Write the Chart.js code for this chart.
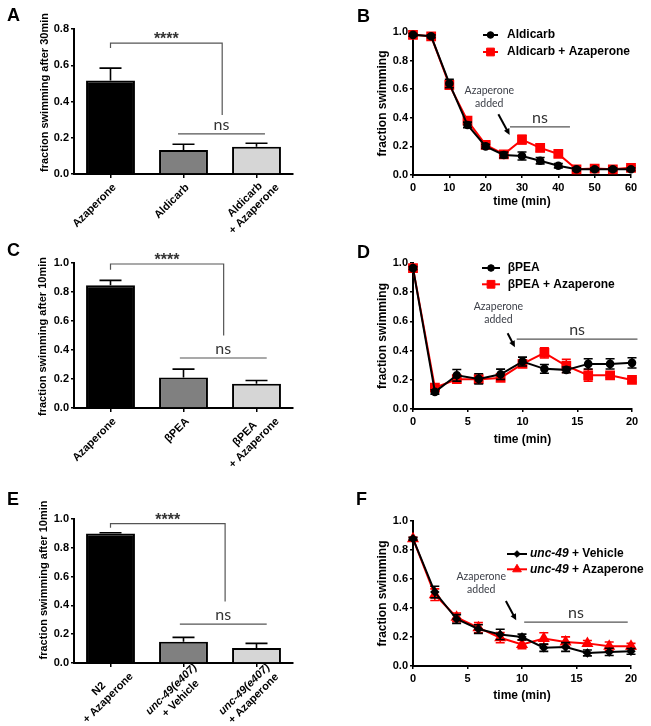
<!DOCTYPE html>
<html>
<head>
<meta charset="utf-8">
<script src="https://cdn.jsdelivr.net/npm/chart.js@4.4.0/dist/chart.umd.min.js"></script>
<style>
  html, body { margin: 0; padding: 0; background: #fff; }
  #fig { position: relative; width: 651px; height: 726px; overflow: hidden; }
  .panel { position: absolute; }
  .letter { position: absolute; font: bold 18px "Liberation Sans", Arial, sans-serif; line-height: 18px; color: #000; }
</style>
</head>
<body>
<div id="fig">
  <div class="panel" style="left:0;top:0;width:325px;height:240px"><canvas id="chartA"></canvas></div>
  <div class="panel" style="left:330px;top:0;width:321px;height:240px"><canvas id="chartB"></canvas></div>
  <div class="panel" style="left:0;top:240px;width:325px;height:240px"><canvas id="chartC"></canvas></div>
  <div class="panel" style="left:330px;top:240px;width:321px;height:240px"><canvas id="chartD"></canvas></div>
  <div class="panel" style="left:0;top:480px;width:325px;height:246px"><canvas id="chartE"></canvas></div>
  <div class="panel" style="left:330px;top:480px;width:321px;height:246px"><canvas id="chartF"></canvas></div>
  <div class="letter" style="left:7px;top:6px">A</div>
  <div class="letter" style="left:357px;top:7px">B</div>
  <div class="letter" style="left:7px;top:241px">C</div>
  <div class="letter" style="left:357px;top:243px">D</div>
  <div class="letter" style="left:7px;top:490px">E</div>
  <div class="letter" style="left:356px;top:490px">F</div>
</div>
<script>
// ---- data ----
// A: fraction swimming after 30 min
const labelsA = [['Azaperone'], ['Aldicarb'], ['Aldicarb', '+ Azaperone']];
const valuesA = [0.516, 0.133, 0.151];
const errorsA = [0.068, 0.031, 0.019];

// B: aldicarb time course
const timesB = [0, 5, 10, 15, 20, 25, 30, 35, 40, 45, 50, 55, 60];
const aldicarbB = [0.98, 0.97, 0.64, 0.35, 0.20, 0.14, 0.133, 0.10, 0.065, 0.04, 0.04, 0.04, 0.04];
const aldicarbErrB = [0.01, 0.01, 0.03, 0.02, 0.015, 0.02, 0.028, 0.022, 0.015, 0.01, 0.01, 0.01, 0.01];
const aldicarbAzaB = [0.98, 0.97, 0.63, 0.38, 0.21, 0.145, 0.247, 0.19, 0.147, 0.04, 0.045, 0.04, 0.05];
const aldicarbAzaErrB = [0.01, 0.01, 0.03, 0.025, 0.02, 0.02, 0.03, 0.025, 0.02, 0.01, 0.012, 0.01, 0.015];

// C: fraction swimming after 10 min (bPEA)
const labelsC = [['Azaperone'], ['βPEA'], ['βPEA', '+ Azaperone']];
const valuesC = [0.846, 0.211, 0.168];
const errorsC = [0.034, 0.057, 0.022];

// D: bPEA time course
const timesD = [0, 2, 4, 6, 8, 10, 12, 14, 16, 18, 20];
const peaD = [0.965, 0.117, 0.231, 0.206, 0.238, 0.325, 0.275, 0.268, 0.309, 0.309, 0.316];
const peaErrD = [0.01, 0.015, 0.04, 0.035, 0.035, 0.03, 0.03, 0.02, 0.035, 0.035, 0.035];
const peaAzaD = [0.965, 0.146, 0.204, 0.204, 0.213, 0.309, 0.384, 0.295, 0.231, 0.231, 0.199];
const peaAzaErrD = [0.01, 0.015, 0.015, 0.015, 0.015, 0.02, 0.035, 0.045, 0.04, 0.015, 0.015];

// E: unc-49 after 10 min
const labelsE = [['N2', '+ Azaperone'], ['unc-49(e407)', '+ Vehicle'], ['unc-49(e407)', '+ Azaperone']];
const valuesE = [0.90, 0.148, 0.104];
const errorsE = [0.005, 0.03, 0.032];

// F: unc-49 time course
const timesF = [0, 2, 4, 6, 8, 10, 12, 14, 16, 18, 20];
const vehicleF = [0.878, 0.51, 0.324, 0.255, 0.218, 0.20, 0.126, 0.131, 0.09, 0.097, 0.101];
const vehicleErrF = [0.01, 0.04, 0.03, 0.03, 0.035, 0.02, 0.025, 0.03, 0.02, 0.025, 0.02];
const azaF = [0.878, 0.492, 0.336, 0.264, 0.195, 0.149, 0.189, 0.166, 0.156, 0.136, 0.136];
const azaErrF = [0.01, 0.04, 0.03, 0.035, 0.035, 0.03, 0.04, 0.035, 0.02, 0.03, 0.02];

const FONT = '"Liberation Sans", Arial, sans-serif';
const NOTE_FONT = 'Lato, "Open Sans", sans-serif';
const RED = '#ff0000';

Chart.defaults.font.family = FONT;
Chart.defaults.color = '#000';

function drawMarker(ctx, style, r, x, y) {
  ctx.beginPath();
  if (style === 'rect') {
    const s = Math.SQRT1_2 * r;
    ctx.rect(x - s, y - s, 2 * s, 2 * s);
  } else if (style === 'rectRot') {
    ctx.moveTo(x - r, y); ctx.lineTo(x, y - r); ctx.lineTo(x + r, y); ctx.lineTo(x, y + r); ctx.closePath();
  } else if (style === 'triangle') {
    ctx.moveTo(x, y - r); ctx.lineTo(x + r * 0.866, y + r / 2); ctx.lineTo(x - r * 0.866, y + r / 2); ctx.closePath();
  } else {
    ctx.arc(x, y, r, 0, Math.PI * 2);
  }
  ctx.fill();
  ctx.stroke();
}

// error bars (up only for bars, both ways for lines)
const errorBarPlugin = {
  id: 'errorBars',
  beforeDatasetDraw(chart, args) {
    const ds = chart.data.datasets[args.index];
    if (!ds.errors) return;
    const ctx = chart.ctx, ys = chart.scales.y;
    const isBar = args.meta.type === 'bar';
    const cap = isBar ? 11 : 4.5;
    ctx.save();
    ctx.strokeStyle = isBar ? '#000' : ds.borderColor;
    ctx.lineWidth = 1.6;
    args.meta.data.forEach((el, i) => {
      const raw = ds.data[i];
      const v = typeof raw === 'number' ? raw : raw.y;
      const e = ds.errors[i];
      const top = ys.getPixelForValue(v + e);
      const bot = isBar ? el.y : ys.getPixelForValue(v - e);
      ctx.beginPath();
      ctx.moveTo(el.x, bot); ctx.lineTo(el.x, top);
      ctx.moveTo(el.x - cap, top); ctx.lineTo(el.x + cap, top);
      if (!isBar) { ctx.moveTo(el.x - cap, bot); ctx.lineTo(el.x + cap, bot); }
      ctx.stroke();
    });
    ctx.restore();
  }
};

// rotated category labels, lines centred on each other, plus the y title
const barLabelPlugin = {
  id: 'barLabels',
  afterDraw(chart, args, o) {
    if (!o.on) return;
    const ctx = chart.ctx, xs = chart.scales.x;
    const area = chart.chartArea;
    const y0 = area.bottom;
    chart.data.labels.forEach((lab, i) => {
      const lines = Array.isArray(lab) ? lab : [lab];
      const n = lines.length;
      const fonts = lines.map((t, j) => (o.italic && o.italic[i] && j === 0 ? 'italic ' : '') + 'bold 11px ' + FONT);
      let w = 0;
      lines.forEach((t, j) => { ctx.font = fonts[j]; w = Math.max(w, ctx.measureText(t).width); });
      const px = xs.getPixelForValue(i);
      ctx.save();
      ctx.translate(px + (n === 1 ? o.dx1 : o.dx2), y0 + (n === 1 ? o.dy1 : o.dy2));
      ctx.rotate(-Math.PI / 4);
      ctx.fillStyle = '#000';
      ctx.textAlign = 'center';
      ctx.textBaseline = 'alphabetic';
      lines.forEach((t, j) => {
        ctx.font = fonts[j];
        ctx.fillText(t, -w / 2, (j - (n - 1)) * o.lh);
      });
      ctx.restore();
    });
    if (o.yTitle) {
      ctx.save();
      ctx.translate(o.yTitleX, (area.top + area.bottom) / 2 + o.yTitleShift);
      ctx.rotate(-Math.PI / 2);
      ctx.fillStyle = '#000';
      ctx.font = 'bold 11px ' + FONT;
      ctx.textAlign = 'center';
      ctx.textBaseline = 'middle';
      ctx.fillText(o.yTitle, 0, 0);
      ctx.restore();
    }
  }
};

// legend drawn inside the plot
const insetLegendPlugin = {
  id: 'insetLegend',
  afterDraw(chart, args, o) {
    if (!o.on) return;
    const ctx = chart.ctx;
    chart.data.datasets.forEach((ds, i) => {
      const y = o.y + i * o.rowH;
      ctx.save();
      ctx.strokeStyle = ds.borderColor;
      ctx.fillStyle = ds.borderColor;
      ctx.lineWidth = 2;
      ctx.beginPath(); ctx.moveTo(o.x, y); ctx.lineTo(o.x + o.lineW, y); ctx.stroke();
      ctx.lineWidth = 1;
      drawMarker(ctx, ds.pointStyle, ds.pointRadius, o.x + o.lineW / 2, y);
      ctx.fillStyle = '#000';
      ctx.textAlign = 'left';
      ctx.textBaseline = 'middle';
      let tx = o.textX;
      let text = ds.label;
      if (o.italic && text.startsWith(o.italic)) {
        ctx.font = 'italic bold 12px ' + FONT;
        ctx.fillText(o.italic, tx, y);
        tx += ctx.measureText(o.italic).width;
        text = text.slice(o.italic.length);
      }
      ctx.font = 'bold 12px ' + FONT;
      ctx.fillText(text, tx, y);
      ctx.restore();
    });
  }
};

// significance brackets, ns lines, "Azaperone added" arrows
const notesPlugin = {
  id: 'notes',
  afterDraw(chart, args, o) {
    const ctx = chart.ctx, xs = chart.scales.x, ys = chart.scales.y;
    const X = v => xs.getPixelForValue(v), Y = v => ys.getPixelForValue(v);
    ctx.save();
    ctx.textAlign = 'center';
    if (o.stars) {
      const s = o.stars;
      ctx.strokeStyle = '#555'; ctx.lineWidth = 1.2;
      ctx.beginPath();
      ctx.moveTo(X(s.x1), Y(s.y1)); ctx.lineTo(X(s.x1), Y(s.y));
      ctx.lineTo(X(s.x2), Y(s.y)); ctx.lineTo(X(s.x2), Y(s.y2));
      ctx.stroke();
      ctx.fillStyle = '#333'; ctx.font = 'bold 16px ' + FONT; ctx.textBaseline = 'alphabetic';
      ctx.fillText('****', (X(s.x1) + X(s.x2)) / 2, Y(s.y) + 1);
    }
    if (o.ns) {
      const s = o.ns;
      ctx.strokeStyle = '#555'; ctx.lineWidth = 1.2;
      ctx.beginPath(); ctx.moveTo(X(s.x1), Y(s.y)); ctx.lineTo(X(s.x2), Y(s.y)); ctx.stroke();
      ctx.fillStyle = '#333'; ctx.font = '16px ' + NOTE_FONT; ctx.textBaseline = 'alphabetic';
      ctx.fillText('ns', (X(s.x1) + X(s.x2)) / 2, Y(s.y) - 4);
    }
    if (o.added) {
      const a = o.added;
      ctx.fillStyle = '#3d4049'; ctx.font = '10.5px ' + NOTE_FONT; ctx.textBaseline = 'middle';
      ctx.fillText('Azaperone', X(a.x), Y(a.y1));
      ctx.fillText('added', X(a.x), Y(a.y2));
      const x1 = X(a.ax1), y1 = Y(a.ay1), x2 = X(a.ax2), y2 = Y(a.ay2);
      const ang = Math.atan2(y2 - y1, x2 - x1);
      ctx.strokeStyle = '#000'; ctx.fillStyle = '#000'; ctx.lineWidth = 2;
      ctx.beginPath(); ctx.moveTo(x1, y1);
      ctx.lineTo(x2 - 4 * Math.cos(ang), y2 - 4 * Math.sin(ang)); ctx.stroke();
      ctx.beginPath();
      ctx.moveTo(x2, y2);
      ctx.lineTo(x2 - 7 * Math.cos(ang - 0.45), y2 - 7 * Math.sin(ang - 0.45));
      ctx.lineTo(x2 - 7 * Math.cos(ang + 0.45), y2 - 7 * Math.sin(ang + 0.45));
      ctx.closePath(); ctx.fill();
    }
    ctx.restore();
  }
};

Chart.register(errorBarPlugin, barLabelPlugin, insetLegendPlugin, notesPlugin);

function yAxis(max, title, width, titleSize, titlePad) {
  return {
    min: 0, max: max,
    ticks: { stepSize: 0.2, padding: 2, color: '#000', font: { size: 11, weight: 'bold' }, callback: v => v.toFixed(1) },
    grid: { drawOnChartArea: false, drawTicks: true, tickLength: 3, color: '#000', lineWidth: 1.5 },
    border: { color: '#000', width: 2 },
    title: { display: !!title, text: title, color: '#000', font: { size: titleSize, weight: 'bold' }, padding: { top: titlePad, bottom: 0 } },
    afterFit: s => { s.width = width; }
  };
}

function xTime(max, step, height, titlePad) {
  return {
    type: 'linear', min: 0, max: max,
    ticks: { stepSize: step, padding: 3, maxRotation: 0, color: '#000', font: { size: 11, weight: 'bold' } },
    grid: { drawOnChartArea: false, drawTicks: true, tickLength: 3, color: '#000', lineWidth: 1.5 },
    border: { color: '#000', width: 2 },
    title: { display: true, text: 'time (min)', color: '#000', font: { size: 12, weight: 'bold' }, padding: { top: 0, bottom: titlePad } },
    afterFit: s => { s.height = height; }
  };
}

function xCategory(height) {
  return {
    type: 'category', offset: true,
    ticks: { color: 'rgba(0,0,0,0)', maxRotation: 0, autoSkip: false },
    grid: { offset: false, drawOnChartArea: false, drawTicks: true, tickLength: 4, color: '#000', lineWidth: 1.5 },
    border: { color: '#000', width: 2 },
    afterFit: s => { s.height = height; }
  };
}

function barChart(id, labels, values, errors, opts) {
  return new Chart(document.getElementById(id), {
    type: 'bar',
    data: {
      labels: labels,
      datasets: [{
        data: values,
        errors: errors,
        backgroundColor: ['#000000', '#808080', '#d6d6d6'],
        borderColor: '#000',
        borderWidth: 2,
        categoryPercentage: 1,
        barPercentage: 0.67
      }]
    },
    options: {
      responsive: true,
      maintainAspectRatio: false,
      animation: false,
      events: [],
      layout: { padding: { top: opts.top, right: opts.right, left: 0, bottom: 0 } },
      scales: {
        x: xCategory(opts.xHeight),
        y: yAxis(opts.max, '', 74, 11, 0)
      },
      plugins: {
        legend: { display: false },
        tooltip: { enabled: false },
        barLabels: {
          on: true, dx1: 6, dy1: 14, dx2: 23, dy2: 14, lh: 13, italic: opts.italic,
          yTitle: opts.title, yTitleX: opts.titleX, yTitleShift: opts.titleShift
        },
        notes: { stars: opts.stars, ns: opts.ns }
      }
    }
  });
}

function series(times, vals) {
  return times.map((t, i) => ({ x: t, y: vals[i] }));
}

function lineDataset(label, times, vals, errs, color, style, radius) {
  return {
    label: label,
    data: series(times, vals),
    errors: errs,
    borderColor: color,
    backgroundColor: color,
    pointBackgroundColor: color,
    pointBorderColor: color,
    pointStyle: style,
    pointRadius: radius,
    borderWidth: 2,
    tension: 0,
    clip: false
  };
}

function lineChart(id, datasets, opts) {
  return new Chart(document.getElementById(id), {
    type: 'line',
    data: { datasets: datasets },
    options: {
      responsive: true,
      maintainAspectRatio: false,
      animation: false,
      events: [],
      layout: { padding: { top: opts.top, right: opts.right, left: 0, bottom: 0 } },
      scales: {
        x: xTime(opts.xMax, opts.step, opts.xHeight, opts.xTitlePad),
        y: yAxis(1.0, 'fraction swimming', 83, 12, 45.8)
      },
      plugins: {
        legend: { display: false },
        tooltip: { enabled: false },
        insetLegend: opts.legend,
        notes: { ns: opts.ns, added: opts.added }
      }
    }
  });
}

// A
barChart('chartA', labelsA, valuesA, errorsA, {
  top: 29, right: 32, xHeight: 66, max: 0.8,
  title: 'fraction swimming after 30min', titleX: 45, titleShift: -9,
  stars: { x1: 0, x2: 1.53, y: 0.722, y1: 0.695, y2: 0.326 },
  ns: { x1: 0.925, x2: 2.116, y: 0.221 }
});

// B
lineChart('chartB', [
  lineDataset('Aldicarb', timesB, aldicarbB, aldicarbErrB, '#000', 'circle', 3.3),
  lineDataset('Aldicarb + Azaperone', timesB, aldicarbAzaB, aldicarbAzaErrB, RED, 'rect', 5.5)
], {
  top: 32, right: 20, xHeight: 65, xMax: 60, step: 10, xTitlePad: 30.8,
  legend: { on: true, x: 153, y: 35, lineW: 15, rowH: 17, textX: 177 },
  ns: { x1: 26.7, x2: 43.2, y: 0.336 },
  added: { x: 21, y1: 0.59, y2: 0.50, ax1: 23.5, ay1: 0.425, ax2: 26.6, ay2: 0.28 }
});

// C
barChart('chartC', labelsC, valuesC, errorsC, {
  top: 23, right: 32, xHeight: 72, max: 1.0,
  title: 'fraction swimming after 10min', titleX: 43, titleShift: 1,
  stars: { x1: 0, x2: 1.55, y: 0.993, y1: 0.954, y2: 0.50 },
  ns: { x1: 0.95, x2: 2.14, y: 0.345 }
});

// D
lineChart('chartD', [
  lineDataset('βPEA', timesD, peaD, peaErrD, '#000', 'circle', 3.3),
  lineDataset('βPEA + Azaperone', timesD, peaAzaD, peaAzaErrD, RED, 'rect', 5.5)
], {
  top: 23, right: 19, xHeight: 71, xMax: 20, step: 5, xTitlePad: 32.8,
  legend: { on: true, x: 152, y: 28, lineW: 18, rowH: 16.3, textX: 177.7 },
  ns: { x1: 9.47, x2: 20.5, y: 0.478 },
  added: { x: 7.8, y1: 0.70, y2: 0.61, ax1: 8.64, ay1: 0.519, ax2: 9.31, ay2: 0.423 }
});

// E
barChart('chartE', labelsE, valuesE, errorsE, {
  top: 39, right: 32, xHeight: 63, max: 1.0,
  title: 'fraction swimming after 10min', titleX: 44, titleShift: -11,
  italic: [false, true, true],
  stars: { x1: 0, x2: 1.57, y: 0.968, y1: 0.94, y2: 0.427 },
  ns: { x1: 0.95, x2: 2.14, y: 0.27 }
});

// F
lineChart('chartF', [
  lineDataset('unc-49 + Vehicle', timesF, vehicleF, vehicleErrF, '#000', 'rectRot', 3.3),
  lineDataset('unc-49 + Azaperone', timesF, azaF, azaErrF, RED, 'triangle', 5)
], {
  top: 41, right: 20, xHeight: 60, xMax: 20, step: 5, xTitlePad: 22.8,
  legend: { on: true, x: 177, y: 74, lineW: 20, rowH: 15.3, textX: 200, italic: 'unc-49' },
  ns: { x1: 10.2, x2: 19.7, y: 0.303 },
  added: { x: 6.26, y1: 0.618, y2: 0.526, ax1: 8.52, ay1: 0.448, ax2: 9.47, ay2: 0.315 }
});
</script>
</body>
</html>
